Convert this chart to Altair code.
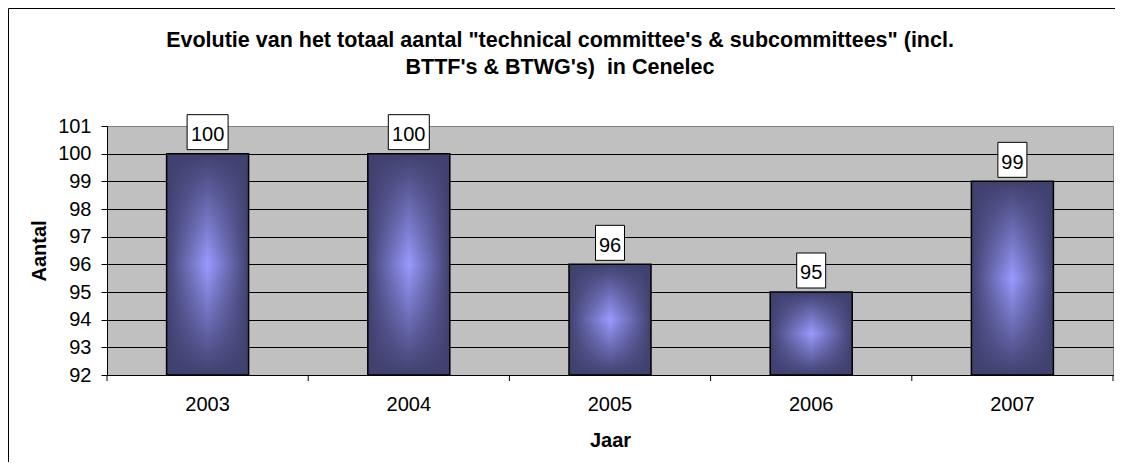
import altair as alt
import pandas as pd

years = ["2003", "2004", "2005", "2006", "2007"]
values = [100, 100, 96, 95, 99]
y_ticks = [92, 93, 94, 95, 96, 97, 98, 99, 100, 101]
title_lines = [
    'Evolutie van het totaal aantal "technical committee\'s & subcommittees" (incl.',
    "BTTF's & BTWG's)\u00a0 in Cenelec",
]
x_title = "Jaar"
y_title = "Aantal"

df = pd.DataFrame({"year": years, "value": values})
df["label"] = df["value"].astype(str)

W, H = 1006, 249
FONT = "Liberation Sans"
DARK = "#40406e"
LIGHT = "#9a9aff"

xscale = alt.Scale(domain=years, paddingInner=0, paddingOuter=0)
yscale = alt.Scale(domain=[92, 101], nice=False, zero=False)

x_axis = alt.Axis(
    title=x_title, labelAngle=0, ticks=False, tickSize=0, labelPadding=19.4,
    labelFontSize=20, labelFont=FONT, labelColor="black",
    titleFont=FONT, titleFontSize=20, titleFontWeight="bold", titleColor="black",
    titleX=W / 2, titleY=71.8, titleAlign="center", titleBaseline="alphabetic",
    domainColor="black", domainWidth=1, grid=False,
)
y_axis = alt.Axis(
    values=y_ticks, title=y_title, tickSize=6, tickColor="black", labelPadding=10,
    labelFontSize=20, labelFont=FONT, labelColor="black", labelOverlap=False,
    titleFont=FONT, titleFontSize=20, titleFontWeight="bold", titleColor="black",
    titleAngle=270, titleX=-62, titleY=124.5, titleAlign="center", titleBaseline="alphabetic",
    domainColor="black", domainWidth=1, grid=True, gridWidth=1,
    gridColor=alt.condition("datum.value == 101", alt.value("#808080"), alt.value("black")),
)

X = alt.X("year:N", scale=xscale, sort=years, axis=x_axis)
Y = alt.Y("value:Q", scale=yscale, axis=y_axis)

base = alt.Chart(df)

h_grad = alt.Gradient(
    gradient="linear", x1=0, x2=1, y1=0, y2=0,
    stops=[
        alt.GradientStop(offset=0, color=DARK),
        alt.GradientStop(offset=0.5, color=LIGHT),
        alt.GradientStop(offset=1, color=DARK),
    ],
)
v_grad = alt.Gradient(
    gradient="linear", x1=0, x2=0, y1=0, y2=1,
    stops=[
        alt.GradientStop(offset=0, color="rgba(64,64,110,1)"),
        alt.GradientStop(offset=0.5, color="rgba(64,64,110,0)"),
        alt.GradientStop(offset=1, color="rgba(64,64,110,1)"),
    ],
)

bars = base.mark_bar(width=82, fill=h_grad).encode(x=X, y=Y, y2=alt.datum(92))
bars_overlay = base.mark_bar(width=82, fill=v_grad, stroke="black", strokeWidth=1.5).encode(
    x=X, y=Y, y2=alt.datum(92)
)

box3 = base.transform_filter("datum.value >= 100").mark_bar(
    width=41, yOffset=-4, y2Offset=-39, fill="white", stroke="black", strokeWidth=1
).encode(x=X, y=Y, y2=alt.Y2("value:Q"))
box2 = base.transform_filter("datum.value < 100").mark_bar(
    width=29, yOffset=-4, y2Offset=-39, fill="white", stroke="black", strokeWidth=1
).encode(x=X, y=Y, y2=alt.Y2("value:Q"))
labels = base.mark_text(
    dy=-12.7, baseline="alphabetic", align="center", fontSize=20, font=FONT, color="black"
).encode(x=X, y=Y, text="label:N")

xticks = base.mark_rule(color="black", strokeWidth=1).encode(
    x=alt.X("year:N", scale=xscale, sort=years, axis=x_axis, bandPosition=0),
    y=alt.value(H),
    y2=alt.value(H + 6),
)
one = alt.Chart(pd.DataFrame({"k": [0]}))
xtick_end = one.mark_rule(color="black", strokeWidth=1).encode(
    x=alt.value(W), y=alt.value(H), y2=alt.value(H + 6)
)
border_left = one.mark_rule(color="black", strokeWidth=1).encode(
    x=alt.value(-98.5), y=alt.value(-117.5), y2=alt.value(H + 90)
)
border_top = one.mark_rule(color="black", strokeWidth=1).encode(
    x=alt.value(-98.5), x2=alt.value(W + 10), y=alt.value(-117.5)
)

chart = (
    alt.layer(bars, bars_overlay, box3, box2, labels, xticks, xtick_end, border_left, border_top)
    .properties(
        width=W,
        height=H,
        autosize="none",
        padding={"left": 99, "top": 118, "right": 2, "bottom": 87},
        background="white",
        title=alt.TitleParams(
            text=title_lines, font=FONT, fontSize=21.5, fontWeight="bold", color="black",
            lineHeight=27.6, anchor="middle", dx=-50, offset=-71,
        ),
    )
    .configure_view(fill="#c0c0c0", stroke="#808080", strokeWidth=1)
)

chart.save("out.html", embed_options={"renderer": "svg", "actions": False})
